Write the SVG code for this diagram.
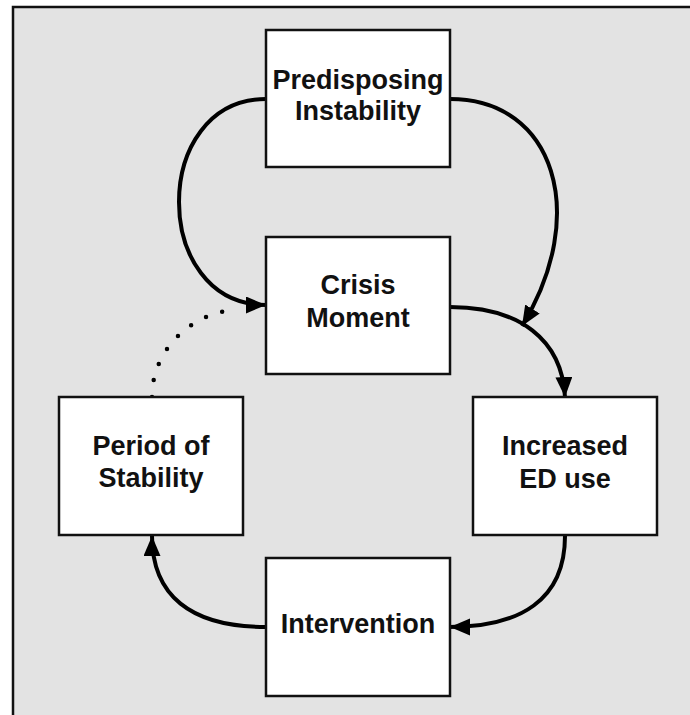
<svg xmlns="http://www.w3.org/2000/svg" width="690" height="715" viewBox="0 0 690 715">
<style>
.box{fill:#ffffff;stroke:#111111;stroke-width:2.5}
.lbl{font-family:"Liberation Sans",Arial,sans-serif;font-weight:bold;font-size:27px;fill:#111111;text-anchor:middle}
.conn{fill:none;stroke:#000000;stroke-width:4}
.dot{fill:none;stroke:#000000;stroke-width:4.5;stroke-linecap:round;stroke-dasharray:0 17}
</style>
<defs>
<marker id="arrow" markerUnits="userSpaceOnUse" markerWidth="22" markerHeight="20" refX="20" refY="8.5" orient="auto">
<path d="M0,0 L20,8.5 L0,17 z" fill="#000000"/>
</marker>
</defs>
<rect x="0" y="0" width="690" height="715" fill="#ffffff"/>
<rect x="13" y="7" width="690" height="720" fill="#e3e3e3" stroke="#111111" stroke-width="2.5"/>
<g id="connectors">
<path class="conn" d="M266,99 C150,99 150,305 266,305" marker-end="url(#arrow)"/>
<path class="conn" d="M450,99 C555,99 590,215 522,326" marker-end="url(#arrow)"/>
<path class="conn" d="M450,307 C520,307 562,340 565,397" marker-end="url(#arrow)"/>
<path class="conn" d="M565,536 C565,600 520,627 450,627" marker-end="url(#arrow)"/>
<path class="conn" d="M266,627 C190,627 152,595 152,536" marker-end="url(#arrow)"/>
<path class="dot" d="M152,397 C152,350 190,315 232,310"/>
</g>
<g id="predisposing">
<rect class="box" x="266" y="30" width="184" height="137"/>
<text class="lbl" x="358" y="89">Predisposing</text>
<text class="lbl" x="358" y="120">Instability</text>
</g>
<g id="crisis">
<rect class="box" x="266" y="237" width="184" height="137"/>
<text class="lbl" x="358" y="294">Crisis</text>
<text class="lbl" x="358" y="327">Moment</text>
</g>
<g id="period">
<rect class="box" x="59" y="397" width="184" height="138"/>
<text class="lbl" x="151" y="455">Period of</text>
<text class="lbl" x="151" y="487">Stability</text>
</g>
<g id="increased">
<rect class="box" x="473" y="397" width="184" height="138"/>
<text class="lbl" x="565" y="455">Increased</text>
<text class="lbl" x="565" y="488">ED use</text>
</g>
<g id="intervention">
<rect class="box" x="266" y="558" width="184" height="138"/>
<text class="lbl" x="358" y="633">Intervention</text>
</g>
</svg>
